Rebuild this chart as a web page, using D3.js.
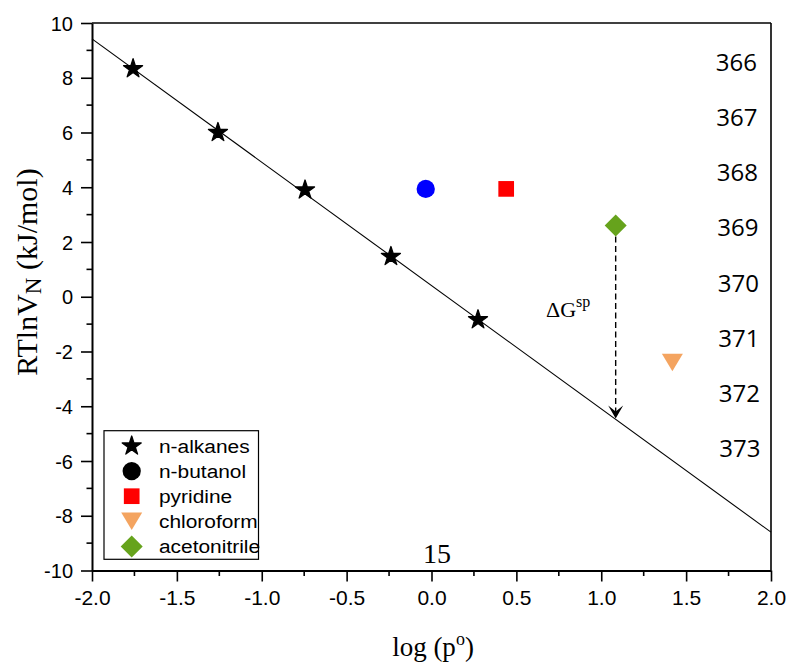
<!DOCTYPE html>
<html><head><meta charset="utf-8">
<script src="https://cdn.jsdelivr.net/npm/d3@7"></script>
<style>body{margin:0;background:#fff;} svg{display:block;}</style>
</head><body>
<svg id="chart" width="790" height="662"></svg>
<script>
// ---- data ----
const alkaneX = [-1.758, -1.258, -0.745, -0.239, 0.274];
const alkaneY = [8.33, 6.0, 3.90, 1.47, -0.84];
const butanolX = [-0.034];
const butanolY = [3.94];
const pyridineX = [0.44];
const pyridineY = [3.94];
const chloroformX = [1.419];
const chloroformY = [-2.40];
const acetonitrileX = [1.085];
const acetonitrileY = [2.60];
const fitX = [-2.0, 2.0];
const fitY = [9.42, -8.60];
const arrowX = [1.085];
const arrowFromY = [2.60];
const arrowToY = [-4.45];
const rightLabels = ["366","367","368","369","370","371","372","373"];
const legendNames = ["n-alkanes","n-butanol","pyridine","chloroform","acetonitrile"];
const legendColors = ["#000000","#000000","#ff0000","#f4a460","#66a31c"];
const legendShapes = ["star","circle","square","triangle","diamond"];
const xTicks = [-2.0,-1.5,-1.0,-0.5,0.0,0.5,1.0,1.5,2.0];
const yTicks = [-10,-8,-6,-4,-2,0,2,4,6,8,10];

const svg = d3.select("#chart");
const L = 92, R = 771, T = 23, B = 570.5;
const x = d3.scaleLinear().domain([-2, 2]).range([L, R]);
const y = d3.scaleLinear().domain([-10, 10]).range([B, T]);

// frame top/right
svg.append("line").attr("x1", L).attr("x2", R).attr("y1", T).attr("y2", T).attr("stroke", "#000").attr("stroke-width", 1.6);
svg.append("line").attr("x1", R).attr("x2", R).attr("y1", T).attr("y2", B).attr("stroke", "#000").attr("stroke-width", 1.6);

// minor ticks
const xMinor = d3.range(-1.75, 2, 0.5);
const yMinor = d3.range(-9, 10, 2);
svg.append("g").selectAll("line").data(xMinor).join("line")
  .attr("x1", d => x(d)).attr("x2", d => x(d)).attr("y1", B).attr("y2", B + 5.5)
  .attr("stroke", "#000").attr("stroke-width", 1.6);
svg.append("g").selectAll("line").data(yMinor).join("line")
  .attr("y1", d => y(d)).attr("y2", d => y(d)).attr("x1", L).attr("x2", L - 5.5)
  .attr("stroke", "#000").attr("stroke-width", 1.6);

// axes
const xAxis = svg.append("g").attr("transform", `translate(0,${B})`)
  .call(d3.axisBottom(x).tickValues(xTicks).tickFormat(d3.format(".1f")).tickSize(11).tickSizeOuter(0).tickPadding(9));
const yAxis = svg.append("g").attr("transform", `translate(${L},0)`)
  .call(d3.axisLeft(y).tickValues(yTicks).tickFormat(d => d).tickSize(11).tickSizeOuter(0).tickPadding(8));
[xAxis, yAxis].forEach(a => {
  a.select(".domain").attr("stroke-width", 2);
  a.selectAll(".tick line").attr("stroke-width", 1.6);
  a.selectAll("text").attr("fill", "#000").attr("font-family", "Liberation Sans, Arial, sans-serif");
});
xAxis.selectAll("text").attr("font-size", 21);
yAxis.selectAll("text").attr("font-size", 20).attr("dy", "0.36em");
svg.selectAll(".tick text").text(function(){ return this.textContent.replace("\u2212","-"); });

// fit line
svg.append("line").attr("x1", x(fitX[0])).attr("y1", y(fitY[0])).attr("x2", x(fitX[1])).attr("y2", y(fitY[1]))
  .attr("stroke", "#000").attr("stroke-width", 1.1);

// arrow
svg.append("line").attr("x1", x(arrowX[0])).attr("x2", x(arrowX[0]))
  .attr("y1", y(arrowFromY[0]) + 11).attr("y2", y(arrowToY[0]) - 4)
  .attr("stroke", "#000").attr("stroke-width", 1.4).attr("stroke-dasharray", "6,3.5");
{
  const ax = x(arrowX[0]), ay = y(arrowToY[0]);
  svg.append("path").attr("d", `M${ax},${ay} L${ax-7.5},${ay-13} L${ax},${ay-7} L${ax+7.5},${ay-13} Z`).attr("fill", "#000");
}

// symbols
function shapePath(kind) {
  if (kind === "star") return d3.symbol(d3.symbolStar, 112)();
  if (kind === "circle") return d3.symbol(d3.symbolCircle, 262)();
  if (kind === "square") return d3.symbol(d3.symbolSquare, 246)();
  if (kind === "diamond") { const s = 11; return `M0,${-s}L${s},0L0,${s}L${-s},0Z`; }
  if (kind === "triangle") return "M-10.5,-8.8L10.5,-8.8L0,8.8Z";
}
function drawPts(xs, ys, kind, color) {
  svg.append("g").selectAll("path").data(xs.map((d, i) => [d, ys[i]])).join("path")
    .attr("d", shapePath(kind)).attr("fill", color)
    .attr("stroke", kind === "star" ? "#000" : "none").attr("stroke-width", 1.3).attr("stroke-linejoin", "round")
    .attr("transform", d => `translate(${x(d[0])},${y(d[1])})`);
}
drawPts(alkaneX, alkaneY, "star", "#000");
drawPts(butanolX, butanolY, "circle", "#0000ff");
drawPts(pyridineX, pyridineY, "square", "#ff0000");
drawPts(chloroformX, chloroformY, "triangle", legendColors[3]);
drawPts(acetonitrileX, acetonitrileY, "diamond", legendColors[4]);

// ΔG^sp label
const dg = svg.append("text").attr("x", 546).attr("y", 317)
  .attr("font-family", "Liberation Serif, Times New Roman, serif").attr("font-size", 22).attr("fill", "#000");
dg.append("tspan").text("\u0394G");
dg.append("tspan").attr("font-size", 16).attr("dy", -10).text("sp");

// right numbers
svg.append("g").selectAll("text").data(rightLabels).join("text")
  .attr("x", (d, i) => 757 + i * 0.5).attr("y", (d, i) => 71 + i * 55.15)
  .attr("text-anchor", "end").attr("font-family", "Open Sans, sans-serif").attr("font-size", 24)
  .attr("fill", "#000").text(d => d);

// "15"
svg.append("text").attr("x", 437).attr("y", 562.5).attr("text-anchor", "middle")
  .attr("font-family", "Liberation Serif, Times New Roman, serif").attr("font-size", 28).text("15");

// x label
const xl = svg.append("text").attr("x", 433).attr("y", 656).attr("text-anchor", "middle")
  .attr("font-family", "Liberation Serif, Times New Roman, serif").attr("font-size", 27).attr("fill", "#000");
xl.append("tspan").text("log (p");
xl.append("tspan").attr("font-size", 18).attr("dy", -11).text("o");
xl.append("tspan").attr("dy", 11).text(")");

// y label
const yl = svg.append("text").attr("transform", "translate(37,272) rotate(-90)").attr("text-anchor", "middle")
  .attr("font-family", "Liberation Serif, Times New Roman, serif").attr("font-size", 30).attr("fill", "#000");
yl.append("tspan").text("RTlnV");
yl.append("tspan").attr("font-size", 23).attr("dy", 4).text("N");
yl.append("tspan").attr("dy", -4).text(" (kJ/mol)");

// legend
const lg = svg.append("g");
lg.append("rect").attr("x", 104).attr("y", 430.7).attr("width", 154.5).attr("height", 128.6)
  .attr("fill", "#fff").attr("stroke", "#000").attr("stroke-width", 1.2);
legendNames.forEach((n, i) => {
  const cy = 446 + i * 25.1;
  lg.append("path").attr("d", shapePath(legendShapes[i])).attr("fill", legendColors[i])
    .attr("stroke", legendShapes[i] === "star" ? "#000" : "none").attr("stroke-width", 1.3).attr("stroke-linejoin", "round")
    .attr("transform", `translate(131.7,${cy})`);
  lg.append("text").attr("transform", `translate(159,${cy + 7}) scale(1.1,1)`)
    .attr("font-family", "Liberation Sans, Arial, sans-serif").attr("font-size", 19).attr("fill", "#000").text(n);
});
</script>
</body></html>
